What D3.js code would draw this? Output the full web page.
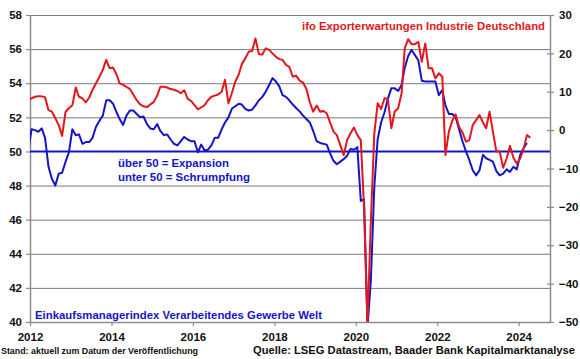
<!DOCTYPE html>
<html><head><meta charset="utf-8">
<script src="https://cdn.jsdelivr.net/npm/d3@7"></script>
<style>
body{margin:0;background:#fff}
svg{display:block}
text{font-family:Arial,"Liberation Sans",sans-serif;font-weight:bold}
</style>
</head><body>
<svg id="c" width="580" height="359"></svg>
<script>
// Monthly data, first value = Dec 2011
const firstMonth = [2011, 11];
const pmiWelt = [
 50.0,
 51.3,51.25,51.15,51.35,50.8,49.1,48.4,48.0,48.7,48.75,49.4,49.95,
 51.3,50.95,51.0,50.45,50.55,50.55,50.8,51.45,51.8,52.1,53.0,53.0,
 52.8,52.3,51.9,51.55,52.1,52.4,52.4,52.2,52.0,52.05,51.6,51.35,
 51.3,51.6,51.2,50.95,51.0,50.7,50.45,50.35,50.6,50.85,50.7,50.6,
 50.6,49.95,50.4,50.05,50.1,50.35,50.8,50.8,51.3,51.7,52.0,52.5,
 52.65,52.8,52.75,52.5,52.4,52.45,52.7,53.0,53.2,53.5,53.9,54.3,
 54.1,53.8,53.3,53.2,53.0,52.75,52.55,52.35,52.1,51.9,51.7,51.2,
 50.6,50.5,50.45,50.4,49.9,49.45,49.25,49.4,49.55,49.75,50.15,50.1,
 50.25,47.1,47.2,39.7,42.4,47.9,50.7,51.7,52.3,53.1,53.7,53.7,
 53.55,53.9,54.9,55.6,55.95,55.65,55.35,54.15,54.1,54.1,54.1,54.1,
 53.3,53.6,52.7,52.2,52.2,52.0,51.3,50.6,50.0,49.5,48.9,48.6,
 48.9,49.8,49.6,49.5,49.4,48.85,48.6,48.7,48.95,48.8,49.1,48.95,
 49.8,50.2,50.5
];
const ifoExport = [
 7.6,
 8.3,8.7,8.8,8.8,8.6,5.2,4.8,3.1,1.3,-1.5,4.8,5.7,
 6.5,11.1,8.7,8.3,7.2,8.5,10.5,12.2,13.9,15.7,18.3,16.1,
 16.3,14.5,12.2,11.8,11.3,10.7,9.3,7.8,6.7,6.2,6.0,6.7,
 7.3,9.0,11.3,11.3,11.1,10.7,10.5,10.2,9.6,10.4,8.2,7.6,
 6.5,5.4,5.9,6.5,7.8,8.7,9.0,9.3,10.0,13.1,7.0,9.6,
 12.6,14.5,17.2,18.7,20.4,20.6,23.9,19.8,19.7,21.3,20.9,20.0,
 19.1,18.5,18.3,17.0,16.5,13.9,14.2,12.9,12.4,10.7,7.2,4.8,
 6.4,4.8,5.0,4.4,2.0,-0.4,-1.3,-3.9,-6.5,-2.6,-0.8,0.7,
 -1.3,-2.6,-20.0,-50.5,-24.0,-1.0,7.0,5.5,8.3,8.1,0.5,4.8,
 5.7,9.6,21.3,23.7,22.4,22.4,23.0,17.8,22.6,16.1,16.1,13.5,
 14.8,13.9,-6.5,-0.4,2.4,4.1,0.9,-0.6,-3.0,-2.6,1.3,2.6,
 3.9,2.0,0.5,4.8,-0.4,-5.6,-5.6,-9.8,-7.4,-4.1,-7.2,-8.7,
 -7.4,-4.8,-1.3,-2.0
];
const leftTicks = [40,42,44,46,48,50,52,54,56,58];
const rightTicks = [-50,-40,-30,-20,-10,0,10,20,30];
const yearTicks = [2012,2014,2016,2018,2020,2022,2024];
const texts = {
  ifo: "ifo Exporterwartungen Industrie Deutschland",
  over: "über 50 = Expansion",
  under: "unter 50 = Schrumpfung",
  pmi: "Einkaufsmanagerindex Verarbeitendes Gewerbe Welt",
  stand: "Stand: aktuell zum Datum der Veröffentlichung",
  quelle: "Quelle: LSEG Datastream, Baader Bank Kapitalmarktanalyse"
};

const RED = "#e3161d", BLUE = "#1414c8", GRID = "#7a7a7a", AX = "#8c8c8c";
const L = 30, R = 550, T = 15, B = 322;
const svg = d3.select("#c");
svg.append("rect").attr("width",580).attr("height",359).attr("fill","#fff");

const dateAt = i => new Date(firstMonth[0], firstMonth[1] + i, 15);
const x = d3.scaleTime().domain([new Date(2012,0,1), new Date(2024,9,8)]).range([L,R]);
const yL = d3.scaleLinear().domain([40,58]).range([B,T]);
const yR = d3.scaleLinear().domain([-50,30]).range([B,T]);

// gridlines
svg.append("g").selectAll("line").data(leftTicks.filter(v => v !== 50 && v !== 40)).join("line")
  .attr("x1",L).attr("x2",R).attr("y1",d=>yL(d)+0.5).attr("y2",d=>yL(d)+0.5)
  .attr("stroke",GRID).attr("stroke-width",1);

// axes
const ax = svg.append("g").attr("transform",`translate(${L},0)`)
  .call(d3.axisLeft(yL).tickValues(leftTicks).tickSize(4).tickSizeOuter(0).tickPadding(4));
const bx = svg.append("g").attr("transform",`translate(0,${B})`)
  .call(d3.axisBottom(x).tickValues(yearTicks.map(y=>new Date(y,0,1))).tickFormat(d3.timeFormat("%Y")).tickSize(4).tickSizeOuter(0).tickPadding(7));
const rx = svg.append("g").attr("transform",`translate(${R},0)`)
  .call(d3.axisRight(yR).tickValues(rightTicks).tickSize(4).tickSizeOuter(0).tickPadding(5));
rx.selectAll(".tick line").attr("x1",-3);
[ax,bx,rx].forEach(g=>{
  g.select(".domain").attr("stroke",AX).attr("stroke-width",1.5);
  g.selectAll(".tick line").attr("stroke",AX).attr("stroke-width",1.2);
  g.selectAll(".tick text").attr("fill","#111").attr("font-size",11.5)
    .style("font-family","Arial,'Liberation Sans',sans-serif").style("font-weight","bold");
});

// 50 line
svg.append("line").attr("x1",L).attr("x2",R).attr("y1",yL(50)).attr("y2",yL(50))
  .attr("stroke",BLUE).attr("stroke-width",2);

svg.append("clipPath").attr("id","clip").append("rect")
  .attr("x",L).attr("y",T-2).attr("width",R-L).attr("height",B-T+2);

const lineL = d3.line().x((d,i)=>x(dateAt(i))).y(d=>yL(d));
const lineR = d3.line().x((d,i)=>x(dateAt(i))).y(d=>yR(d));
const plot = svg.append("g").attr("clip-path","url(#clip)");
plot.append("path").datum(pmiWelt).attr("d",lineL).attr("fill","none")
  .attr("stroke",BLUE).attr("stroke-width",2).attr("stroke-linejoin","round");
plot.append("path").datum(ifoExport).attr("d",lineR).attr("fill","none")
  .attr("stroke",RED).attr("stroke-width",2).attr("stroke-linejoin","round");

function label(t, xx, yy, opts){
  const el = svg.append("text").text(t).attr("x",xx).attr("y",yy)
    .attr("fill",opts.color).attr("font-size",opts.size);
  if (opts.anchor) el.attr("text-anchor",opts.anchor);
  if (opts.len) el.attr("textLength",opts.len).attr("lengthAdjust","spacingAndGlyphs");
  return el;
}
label(texts.ifo, 302, 30, {color:RED, size:11.5, len:243});
label(texts.over, 118, 167, {color:BLUE, size:11.5, len:111});
label(texts.under, 118, 181, {color:BLUE, size:11.5, len:132});
label(texts.pmi, 35, 318.5, {color:BLUE, size:11.5, len:287});
label(texts.stand, 1, 354, {color:"#111", size:8.5, len:197});
label(texts.quelle, 253, 353.5, {color:"#111", size:11, len:322});
</script>
</body></html>
